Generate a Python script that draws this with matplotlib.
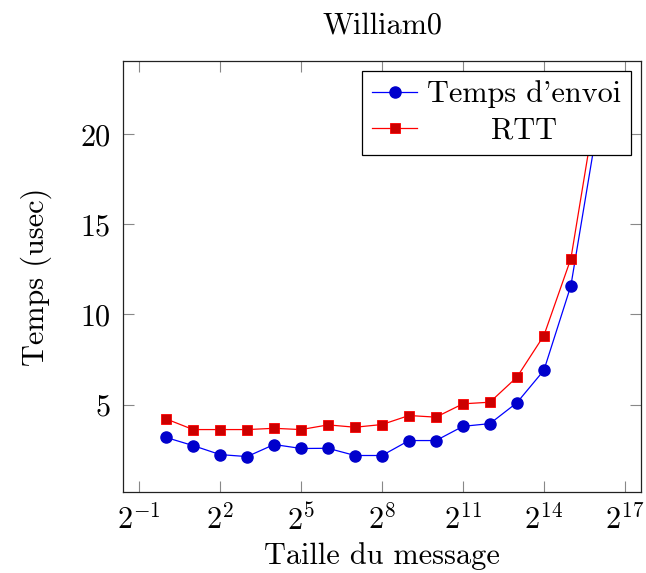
import matplotlib
matplotlib.use('Agg')
import matplotlib.pyplot as plt

# tailles de message (puissances de 2) et temps mesurés
tailles = [2**k for k in range(0, 17)]
temps_envoi = [3.17, 2.72, 2.22, 2.11, 2.78, 2.56, 2.57, 2.17, 2.17, 3.0, 3.0,
               3.79, 3.94, 5.1, 6.9, 11.6, 20.6]
rtt = [4.2, 3.61, 3.61, 3.61, 3.68, 3.61, 3.87, 3.74, 3.89, 4.39, 4.3,
       5.04, 5.13, 6.52, 8.83, 13.1, 22.2]

xtick_exp = [-1, 2, 5, 8, 11, 14, 17]
ytick_vals = [5, 10, 15, 20]

plt.rcParams['font.family'] = 'serif'
plt.rcParams['font.serif'] = ['cmr10']
plt.rcParams['mathtext.fontset'] = 'cm'
plt.rcParams['axes.unicode_minus'] = False
plt.rcParams['axes.formatter.use_mathtext'] = True

fs = 21.8
fig = plt.figure(figsize=(6.46, 5.73), dpi=100)
ax = fig.add_axes([0.1904, 0.1422, 0.8019, 0.7505])

ax.plot(tailles, temps_envoi, color='#0000ff', lw=0.9, marker='o', markersize=8,
        markerfacecolor='#0000cc', markeredgecolor='#0000cc', label="Temps d'envoi")
ax.plot(tailles, rtt, color='#ff0000', lw=0.9, marker='s', markersize=7.5,
        markerfacecolor='#cc0000', markeredgecolor='#ff0000', markeredgewidth=0.6,
        label='RTT')

ax.set_xscale('log', base=2)
ax.set_xlim(2**-1.6, 2**17.6)
ax.set_ylim(0.17, 24.05)
ax.set_xticks([2.0**e for e in xtick_exp])
ax.set_xticklabels([r'$2^{%d}$' % e for e in xtick_exp])
ax.minorticks_off()
ax.set_yticks(ytick_vals)
ax.set_yticklabels([str(v) for v in ytick_vals])

ax.tick_params(direction='in', length=8, width=0.8, color='#888888',
               top=True, right=True, labelsize=fs, pad=9)
for s in ax.spines.values():
    s.set_linewidth(0.9)
    s.set_color('#222222')

ax.set_title('William0', fontsize=fs, pad=20)
ax.set_xlabel('Taille du message', fontsize=fs, labelpad=5)
ax.set_ylabel('Temps (usec)', fontsize=fs, labelpad=20)

leg = ax.legend(loc='upper right', bbox_to_anchor=(0.980, 0.979), borderaxespad=0,
                fontsize=fs, fancybox=False, framealpha=1, edgecolor='black',
                handlelength=1.5, handletextpad=0.3, labelspacing=0.3,
                borderpad=0.33)
leg.get_frame().set_linewidth(0.9)

# centrer les libellés de la légende comme pgfplots
fig.canvas.draw()
r = fig.canvas.get_renderer()
widths = [t.get_window_extent(r).width for t in leg.get_texts()]
wmax = max(widths)
for t, w in zip(leg.get_texts(), widths):
    t.set_x((wmax - w) / 2)

fig.savefig('out.png', dpi=100)
